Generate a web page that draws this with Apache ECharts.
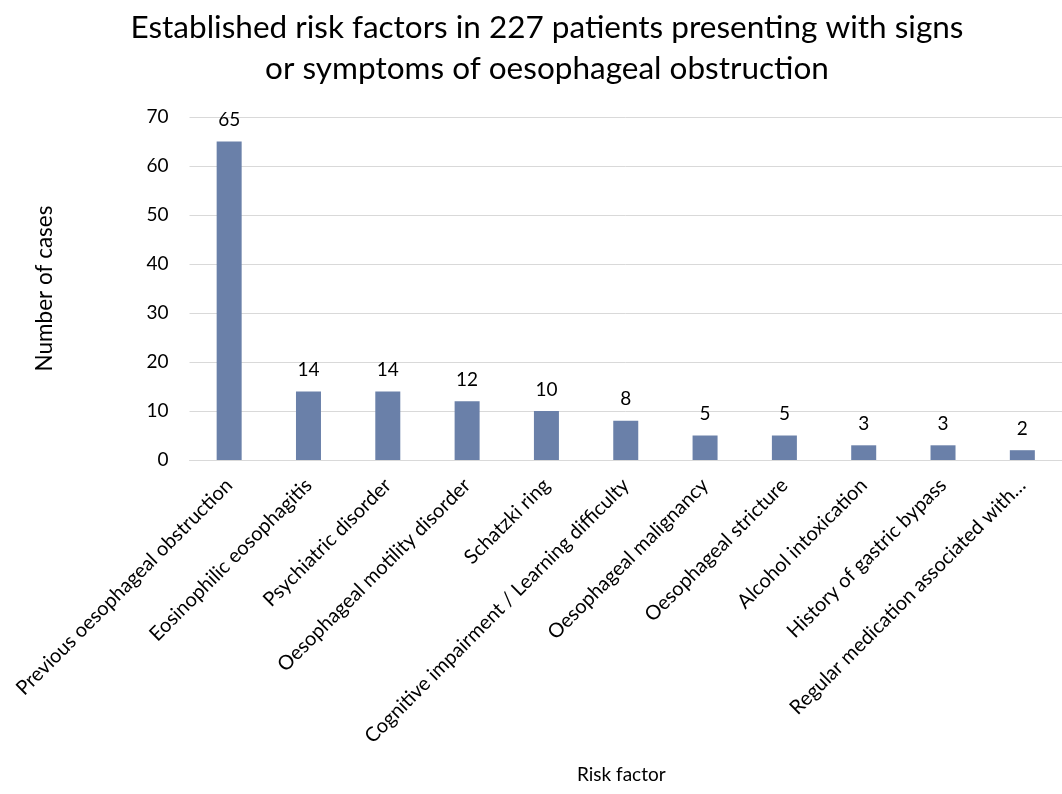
<!DOCTYPE html>
<html>
<head>
<meta charset="utf-8">
<script src="https://cdn.jsdelivr.net/npm/echarts@6/dist/echarts.min.js"></script>
<style>html,body{margin:0;padding:0;background:#fff}#c{width:1062px;height:794px}</style>
</head>
<body>
<div id="c"></div>
<script>
const categories = [
  "Previous oesophageal obstruction",
  "Eosinophilic eosophagitis",
  "Psychiatric disorder",
  "Oesophageal motility disorder",
  "Schatzki ring",
  "Cognitive impairment / Learning difficulty",
  "Oesophageal malignancy",
  "Oesophageal stricture",
  "Alcohol intoxication",
  "History of gastric bypass",
  "Regular medication associated with\u2026"
];
const cases = [65, 14, 14, 12, 10, 8, 5, 5, 3, 3, 2];
const yTicks = { min: 0, max: 70, interval: 10 };

const FONT = "Lato";
const chart = echarts.init(document.getElementById('c'), null, { renderer: 'canvas' });
chart.setOption({
  backgroundColor: '#fff',
  animation: false,
  textStyle: { fontFamily: FONT },
  title: {
    text: 'Established risk factors in 227 patients presenting with signs\nor symptoms of oesophageal obstruction',
    left: 547,
    textAlign: 'center',
    top: 0,
    padding: [7, 0, 0, 0],
    textStyle: { fontFamily: FONT, fontSize: 31.5, fontWeight: 'normal', color: '#000', lineHeight: 41 }
  },
  grid: { left: 189.5, right: -7.5, top: 117, bottom: 334, containLabel: false },
  xAxis: {
    type: 'category',
    data: categories,
    axisLine: { show: true, lineStyle: { color: '#d9d9d9', width: 1 } },
    axisTick: { show: false },
    axisLabel: { rotate: 45, interval: 0, fontSize: 20, color: '#000', fontFamily: FONT, margin: 22 }
  },
  yAxis: {
    type: 'value',
    min: yTicks.min, max: yTicks.max, interval: yTicks.interval,
    name: 'Number of cases',
    nameLocation: 'middle',
    nameGap: 133,
    nameTextStyle: { fontSize: 22.5, color: '#000', fontFamily: FONT },
    axisLine: { show: false },
    axisTick: { show: false },
    axisLabel: { fontSize: 19, color: '#000', fontFamily: FONT, margin: 21 },
    splitLine: { lineStyle: { color: '#d9d9d9', width: 1 } }
  },
  graphic: [{
    type: 'text', left: 577, top: 765,
    style: { text: 'Risk factor', fontSize: 19, fill: '#000', fontFamily: FONT }
  }],
  series: [{
    type: 'bar',
    data: cases,
    barWidth: 25,
    itemStyle: { color: '#6a80a9' },
    label: { show: true, position: 'top', distance: 12, fontSize: 19, color: '#000', fontFamily: FONT }
  }]
});
</script>
</body>
</html>
